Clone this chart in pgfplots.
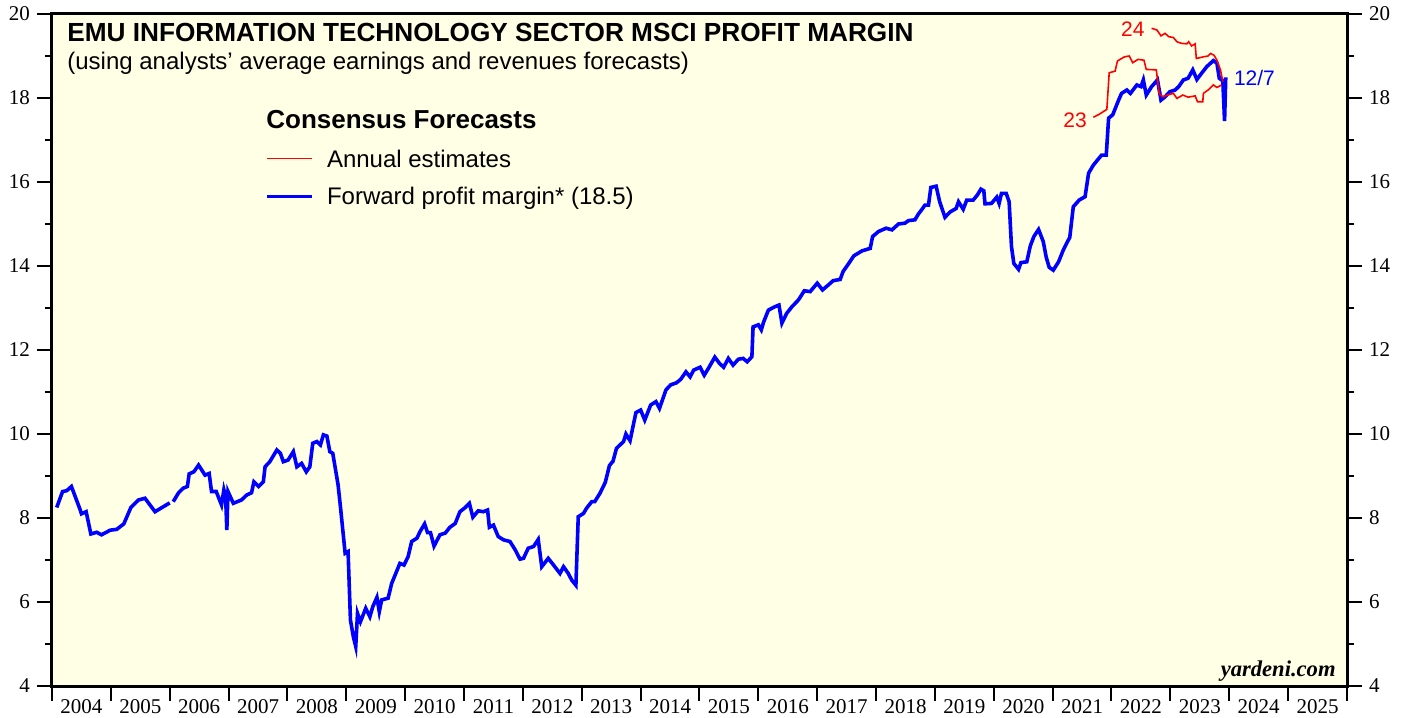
\documentclass[border=0pt]{standalone}
\usepackage{fontspec}
\setmainfont{Liberation Serif}
\newfontfamily\arial{Liberation Sans}
\usepackage{pgfplots}
\pgfplotsset{compat=1.18}
\definecolor{bg}{RGB}{255,255,230}
\definecolor{myblue}{RGB}{0,0,255}
\definecolor{myred}{RGB}{255,0,0}

\pgfplotstableread{
x y
2004.08 8.25
2004.18 8.63
2004.25 8.65
2004.33 8.75
2004.48 8.19
2004.50 8.10
2004.58 8.15
2004.66 7.62
2004.76 7.66
2004.84 7.60
2004.99 7.71
2005.10 7.73
2005.22 7.86
2005.34 8.25
2005.47 8.43
2005.58 8.47
2005.75 8.15
2006.00 8.36
2006.03 nan
2006.06 8.39
2006.15 8.60
2006.23 8.71
2006.30 8.75
2006.33 9.05
2006.41 9.10
2006.49 9.26
2006.60 9.02
2006.67 9.06
2006.71 8.63
2006.79 8.63
2006.88 8.31
2006.92 8.67
2006.95 8.50
2006.97 7.71
2006.99 8.63
2007.08 8.35
2007.22 8.43
2007.31 8.55
2007.39 8.60
2007.43 8.86
2007.51 8.75
2007.59 8.86
2007.62 9.22
2007.70 9.34
2007.82 9.62
2007.88 9.54
2007.93 9.34
2008.01 9.38
2008.10 9.58
2008.16 9.22
2008.24 9.30
2008.32 9.10
2008.38 9.22
2008.43 9.78
2008.50 9.82
2008.56 9.74
2008.61 9.98
2008.67 9.95
2008.72 9.58
2008.77 9.54
2008.86 8.79
2008.90 8.27
2008.98 7.16
2009.03 7.20
2009.07 5.57
2009.12 5.17
2009.16 4.94
2009.19 5.73
2009.24 5.53
2009.33 5.85
2009.40 5.65
2009.45 5.89
2009.52 6.11
2009.56 5.77
2009.60 6.05
2009.71 6.09
2009.77 6.44
2009.84 6.68
2009.91 6.92
2009.98 6.88
2010.05 7.08
2010.11 7.44
2010.20 7.52
2010.25 7.67
2010.33 7.86
2010.38 7.65
2010.43 7.65
2010.49 7.33
2010.59 7.60
2010.68 7.64
2010.76 7.78
2010.85 7.87
2010.93 8.15
2011.02 8.25
2011.09 8.35
2011.15 8.02
2011.24 8.17
2011.33 8.15
2011.40 8.19
2011.43 7.78
2011.50 7.83
2011.58 7.56
2011.67 7.48
2011.78 7.44
2011.87 7.24
2011.95 7.02
2012.01 7.04
2012.09 7.28
2012.18 7.32
2012.26 7.49
2012.32 6.84
2012.43 7.04
2012.52 6.88
2012.63 6.68
2012.69 6.84
2012.77 6.68
2012.83 6.52
2012.90 6.40
2012.94 8.03
2013.03 8.11
2013.08 8.23
2013.17 8.39
2013.22 8.39
2013.31 8.59
2013.40 8.85
2013.47 9.25
2013.53 9.35
2013.59 9.66
2013.71 9.82
2013.75 10.00
2013.82 9.84
2013.92 10.51
2014.00 10.57
2014.07 10.33
2014.17 10.69
2014.26 10.77
2014.32 10.61
2014.43 11.05
2014.51 11.17
2014.61 11.22
2014.68 11.30
2014.77 11.48
2014.84 11.36
2014.90 11.52
2015.01 11.59
2015.08 11.40
2015.15 11.56
2015.26 11.83
2015.34 11.68
2015.41 11.59
2015.49 11.80
2015.57 11.64
2015.66 11.78
2015.74 11.80
2015.81 11.72
2015.89 11.84
2015.91 12.55
2016.00 12.60
2016.05 12.48
2016.09 12.67
2016.17 12.95
2016.28 13.03
2016.35 13.07
2016.40 12.64
2016.48 12.87
2016.57 13.03
2016.68 13.19
2016.78 13.41
2016.88 13.39
2017.00 13.59
2017.09 13.43
2017.19 13.55
2017.27 13.65
2017.39 13.68
2017.44 13.87
2017.53 14.05
2017.62 14.24
2017.76 14.36
2017.90 14.42
2017.94 14.70
2018.04 14.82
2018.17 14.90
2018.27 14.86
2018.38 15.00
2018.49 15.02
2018.55 15.08
2018.66 15.10
2018.72 15.24
2018.78 15.35
2018.83 15.45
2018.89 15.45
2018.93 15.87
2019.02 15.90
2019.08 15.53
2019.17 15.16
2019.26 15.29
2019.36 15.37
2019.40 15.53
2019.48 15.35
2019.54 15.57
2019.65 15.57
2019.72 15.69
2019.78 15.83
2019.83 15.79
2019.85 15.48
2019.96 15.49
2020.05 15.64
2020.09 15.49
2020.13 15.73
2020.21 15.73
2020.26 15.53
2020.30 14.46
2020.34 14.06
2020.42 13.92
2020.46 14.08
2020.56 14.10
2020.62 14.48
2020.68 14.70
2020.76 14.87
2020.84 14.58
2020.89 14.21
2020.94 13.97
2021.01 13.90
2021.10 14.10
2021.18 14.38
2021.24 14.55
2021.29 14.68
2021.35 15.41
2021.45 15.57
2021.55 15.65
2021.61 16.21
2021.69 16.40
2021.83 16.64
2021.91 16.64
2021.95 17.52
2022.02 17.60
2022.12 17.95
2022.17 18.11
2022.26 18.19
2022.32 18.11
2022.43 18.31
2022.50 18.27
2022.54 18.43
2022.59 18.07
2022.68 18.27
2022.78 18.43
2022.84 17.95
2022.91 18.03
2022.99 18.15
2023.08 18.19
2023.14 18.27
2023.22 18.43
2023.30 18.47
2023.38 18.67
2023.45 18.44
2023.53 18.59
2023.62 18.75
2023.73 18.89
2023.79 18.83
2023.83 18.47
2023.89 18.41
2023.92 17.45
2023.94 18.49
}\fwd

\pgfplotstableread{
x y
2021.69 17.54
2021.80 17.62
2021.92 17.73
2021.96 18.60
2022.06 18.64
2022.10 18.88
2022.17 18.94
2022.22 18.98
2022.30 19.00
2022.36 18.84
2022.45 18.92
2022.55 18.90
2022.59 18.68
2022.76 18.67
2022.81 18.10
2022.87 18.03
2022.95 18.07
2023.05 18.11
2023.11 17.99
2023.21 18.07
2023.30 18.02
2023.42 18.05
2023.46 17.91
2023.55 17.91
2023.56 18.11
2023.65 18.20
2023.73 18.31
2023.79 18.25
2023.87 18.31
}\ann

\pgfplotstableread{
x y
2022.68 19.66
2022.77 19.62
2022.84 19.48
2022.91 19.54
2022.97 19.46
2023.05 19.44
2023.11 19.34
2023.19 19.30
2023.28 19.29
2023.31 19.34
2023.36 19.24
2023.42 19.29
2023.44 18.94
2023.56 18.98
2023.64 19.00
2023.68 19.06
2023.74 19.02
2023.79 18.90
2023.85 18.67
2023.89 18.39
}\annb

\begin{document}
\begin{tikzpicture}
\useasboundingbox (-26pt,-15.5pt) rectangle (677.5pt,343pt);
\begin{axis}[
  at={(0,0)}, anchor=south west, scale only axis,
  width=647.5pt, height=336pt,
  xmin=2004, xmax=2026, ymin=4, ymax=20,
  axis background/.style={fill=bg},
  axis line style={line width=1.5pt},
  tick align=outside,
  xtick={2004,...,2026}, xticklabels={\empty},
  xtick pos=bottom,
  extra x ticks={2004.5,2005.5,...,2025.5},
  extra x tick labels={2004,2005,2006,2007,2008,2009,2010,2011,2012,2013,2014,2015,2016,2017,2018,2019,2020,2021,2022,2023,2024,2025},
  extra x tick style={major tick length=0pt, xticklabel style={yshift=-3pt}},
  ytick={4,6,...,20}, minor ytick={5,7,...,19},
  ytick pos=left,
  major tick length=7.5pt, minor tick length=3.5pt,
  tick style={line width=1pt, black},
  ticklabel style={font=\fontsize{10.5}{12}\selectfont},
  /pgf/number format/assume math mode=true,
  unbounded coords=jump,
  clip=false,
]
\addplot[myblue, line width=1.8pt] table {\fwd};
\addplot[myred, line width=0.8pt] table {\ann};
\addplot[myred, line width=0.8pt] table {\annb};
\node[text=myred, anchor=east, inner sep=1pt, font=\arial\fontsize{10.5}{12}\selectfont] at (axis cs:2021.62,17.48) {23};
\node[text=myred, anchor=east, inner sep=1pt, font=\arial\fontsize{10.5}{12}\selectfont] at (axis cs:2022.60,19.64) {24};
\node[text=myblue, anchor=west, inner sep=1pt, font=\arial\fontsize{10.5}{12}\selectfont] at (axis cs:2024.04,18.48) {12/7};
\end{axis}
\begin{axis}[
  at={(0,0)}, anchor=south west, scale only axis,
  width=647.5pt, height=336pt,
  xmin=2004, xmax=2026, ymin=4, ymax=20,
  hide x axis, axis y line*=right,
  axis line style={line width=1.5pt, -},
  tick align=outside,
  ytick={4,6,...,20}, minor ytick={5,7,...,19},
  major tick length=7.5pt, minor tick length=3.5pt,
  tick style={line width=1pt, black},
  ticklabel style={font=\fontsize{10.5}{12}\selectfont},
  /pgf/number format/assume math mode=true,
]
\addplot[draw=none] coordinates {(2010,10)};
\end{axis}
\node[anchor=base west, inner sep=0, font=\arial\bfseries\fontsize{13.1}{15}\selectfont] at (7.5pt,322pt) {EMU INFORMATION TECHNOLOGY SECTOR MSCI PROFIT MARGIN};
\node[anchor=base west, inner sep=0, font=\arial\fontsize{12}{14}\selectfont] at (7.5pt,308pt) {(using analysts’ average earnings and revenues forecasts)};
\node[anchor=base west, inner sep=0, font=\arial\bfseries\fontsize{13}{15}\selectfont] at (107pt,278.8pt) {Consensus Forecasts};
\draw[myred, line width=0.8pt] (107.5pt,263.8pt) -- (130pt,263.8pt);
\node[anchor=base west, inner sep=0, font=\arial\fontsize{12}{14}\selectfont] at (137.3pt,259.2pt) {Annual estimates};
\draw[myblue, line width=1.8pt] (107.5pt,244.7pt) -- (130pt,244.7pt);
\node[anchor=base west, inner sep=0, font=\arial\fontsize{12}{14}\selectfont] at (137.3pt,240.5pt) {Forward profit margin* (18.5)};
\node[anchor=base east, inner sep=0, font=\fontsize{11.3}{13}\selectfont\bfseries\itshape] at (642pt,4.7pt) {yardeni.com};
\end{tikzpicture}
\end{document}
